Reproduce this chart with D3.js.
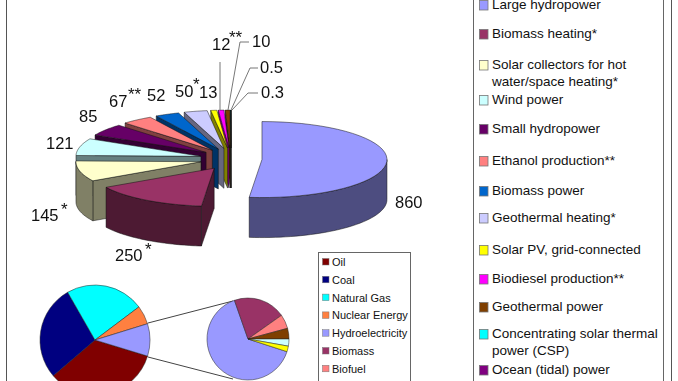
<!DOCTYPE html>
<html>
<head>
<meta charset="utf-8">
<script src="https://cdn.jsdelivr.net/npm/d3@7"></script>
<style>
  html, body { margin: 0; padding: 0; background: #fff; }
  svg { display: block; filter: blur(0.35px); }
  text { font-family: "Liberation Sans", Arial, sans-serif; fill: #111; }
</style>
</head>
<body>
<svg id="chart" width="678" height="381"></svg>
<script>
// values
const sources = ["Large hydropower", "Biomass heating*", "Solar collectors for hot|water/space heating*", "Wind power", "Small hydropower", "Ethanol production**", "Biomass power", "Geothermal heating*", "Solar PV, grid-connected", "Biodiesel production**", "Geothermal power", "Concentrating solar thermal|power (CSP)", "Ocean (tidal) power"];
const capacity = [860, 250, 145, 121, 85, 67, 52, 50, 13, 12, 10, 0.5, 0.3];
const capacityLabels = ["860", "250", "145", "121", "85", "67", "52", "50", "13", "12", "10", "0.5", "0.3"];
const labelStars = ["", "*", "*", "", "", "**", "", "*", "", "**", "", "", ""];

const worldShare = [34, 28, 23, 5.5, 9.5];
const renewShare = [64.7, 20.6, 5.6, 4.2, 2.8, 2.2];
const energyNames = ["Oil", "Coal", "Natural Gas", "Nuclear Energy", "Hydroelectricity", "Biomass", "Biofuel"];

// styles and layout, kept apart from the values
const sourceColors = ["#9999ff", "#993366", "#ffffcc", "#ccffff", "#660066", "#ff8080", "#0066cc", "#ccccff", "#ffff00", "#ff00ff", "#7f3f00", "#00ffff", "#800080"];
const worldColors = ["#800000", "#000080", "#00ffff", "#ff8040", "#9999ff"];
const renewColors = ["#9999ff", "#993366", "#ff8080", "#7f3f00", "#ccffff", "#ffff00"];
const energyColors = ["#800000", "#000080", "#00ffff", "#ff8040", "#9999ff", "#993366", "#ff8080"];
const legendRows = [5, 34, 65, 100, 129, 161, 191, 218, 250, 279, 307, 334, 370];
const labelSpots = [[395, 208], [115, 261], [31, 221], [46, 149], [79, 122], [109, 107], [147, 101], [175, 97], [199, 98], [212, 50], [252, 47], [260, 73], [261, 98]];
const starSpots = { 1: [145, 255], 2: [61, 215], 5: [128, 100], 7: [193, 90], 9: [229, 43] };
const leaderLines = [
  [[220, 62], [220, 110]],
  [[249, 42], [240, 42], [228, 110]],
  [[258, 68], [250, 68], [231, 110]],
  [[258, 93], [248, 93], [232, 110]]
];

const svg = d3.select("#chart");
const tau = 2 * Math.PI;

// frame
svg.append("line").attr("x1", 6.5).attr("x2", 6.5).attr("y1", 0).attr("y2", 381).attr("stroke", "#555").attr("stroke-width", 1);
svg.append("line").attr("x1", 671.5).attr("x2", 671.5).attr("y1", 0).attr("y2", 381).attr("stroke", "#555").attr("stroke-width", 1);

// exploded 3d pie
const cx = 231, cy = 159, depth = 40;
const xR = d3.scaleLinear().domain([-1, 1]).range([-125, 125]);
const yR = d3.scaleLinear().domain([-1, 1]).range([-38, 38]);
const xE = d3.scaleLinear().domain([-1, 1]).range([-31, 31]);
const yE = d3.scaleLinear().domain([-1, 1]).range([-11, 11]);

const slices = d3.pie().sort(null).value(d => d)(capacity).map((s, i) => {
  const mid = (s.startAngle + s.endAngle) / 2;
  return {
    i, a0: s.startAngle, a1: s.endAngle, mid,
    ox: cx + xE(Math.sin(mid)),
    oy: cy + yE(-Math.cos(mid))
  };
});

const rim = (s, a) => [s.ox + xR(Math.sin(a)), s.oy + yR(-Math.cos(a))];
const arcPoints = (s, a0, a1) => d3.range(0, 41).map(k => rim(s, a0 + (a1 - a0) * k / 40));
const line = d3.line();
const shade = c => { const r = d3.rgb(c); return d3.rgb(r.r / 2, r.g / 2, r.b / 2).formatHex(); };
const down = p => [p[0], p[1] + depth];

const pie3d = svg.append("g");
// back slices first so the front ones cover them
slices.slice().sort((a, b) => Math.cos(b.mid) - Math.cos(a.mid)).forEach(s => {
  const g = pie3d.append("g");
  const wall = shade(sourceColors[s.i]);
  const apex = [s.ox, s.oy];
  const edge = (a) => {
    const p = rim(s, a);
    g.append("path").attr("d", line([apex, p, down(p), down(apex)]) + "Z")
      .attr("fill", wall).attr("stroke", "#111").attr("stroke-width", 0.5);
  };
  if (Math.sin(s.a1) > 0) edge(s.a1);
  if (Math.sin(s.a0) < 0) edge(s.a0);
  const from = Math.max(s.a0, tau / 4), to = Math.min(s.a1, 3 * tau / 4);
  if (to > from) {
    const top = arcPoints(s, from, to);
    g.append("path").attr("d", line(top.concat(top.map(down).reverse())) + "Z")
      .attr("fill", wall).attr("stroke", "#111").attr("stroke-width", 0.5);
  }
  g.append("path").attr("d", line([apex].concat(arcPoints(s, s.a0, s.a1))) + "Z")
    .attr("fill", sourceColors[s.i]).attr("stroke", "#111").attr("stroke-width", 0.5);
});

// leader lines and value labels
svg.selectAll("path.leader").data(leaderLines).join("path").attr("class", "leader")
  .attr("d", d => line(d)).attr("fill", "none").attr("stroke", "#777").attr("stroke-width", 1);
svg.selectAll("text.val").data(capacityLabels).join("text").attr("class", "val")
  .attr("x", (d, i) => labelSpots[i][0]).attr("y", (d, i) => labelSpots[i][1])
  .attr("font-size", 16.5).text(d => d);
labelStars.forEach((st, i) => {
  if (st) svg.append("text").attr("x", starSpots[i][0]).attr("y", starSpots[i][1]).attr("font-size", 17).text(st);
});

// pie of pie, clipped by the picture edge
const arcOf = r => d3.arc().innerRadius(0).outerRadius(r);
function flatPie(values, colors, x, y, r, start) {
  const data = d3.pie().sort(null).startAngle(start).endAngle(start + tau)(values);
  svg.append("g").attr("transform", `translate(${x},${y})`)
    .selectAll("path").data(data).join("path")
    .attr("d", arcOf(r)).attr("fill", (d, i) => colors[i])
    .attr("stroke", "#222").attr("stroke-width", 0.5);
}
const rad = d => d * Math.PI / 180;
const joins = [[[148, 323], [233, 301]], [[148, 357], [233, 379]]];
svg.selectAll("path.join").data(joins).join("path").attr("class", "join")
  .attr("d", d => line(d)).attr("stroke", "#444").attr("stroke-width", 1);
flatPie(worldShare, worldColors, 95, 340, 55, rad(107));
flatPie(renewShare, renewColors, 248, 339, 41, rad(108));

// small legend
svg.append("rect").attr("x", 318.5).attr("y", 252.5).attr("width", 92).attr("height", 140)
  .attr("fill", "#fff").attr("stroke", "#666");
const rowY = d3.scaleLinear().domain([0, 1]).range([262, 279.8]);
energyNames.forEach((name, i) => {
  svg.append("rect").attr("x", 322.5).attr("y", rowY(i) - 3.5).attr("width", 6.5).attr("height", 6.5)
    .attr("fill", energyColors[i]).attr("stroke", "#777").attr("stroke-width", 0.5);
  svg.append("text").attr("x", 332).attr("y", rowY(i) + 4).attr("font-size", 11).text(name);
});

// big legend
svg.append("rect").attr("x", 473.5).attr("y", -10).attr("width", 190).attr("height", 400)
  .attr("fill", "#fff").attr("stroke", "#666");
sources.forEach((name, i) => {
  const y = legendRows[i];
  svg.append("rect").attr("x", 479.5).attr("y", y - 4.5).attr("width", 8.5).attr("height", 9.5)
    .attr("fill", sourceColors[i]).attr("stroke", "#777").attr("stroke-width", 0.8);
  name.split("|").forEach((part, k) => {
    svg.append("text").attr("x", 492).attr("y", y + 3.5 + k * 17.5).attr("font-size", 13.5).text(part);
  });
});
</script>
</body>
</html>
